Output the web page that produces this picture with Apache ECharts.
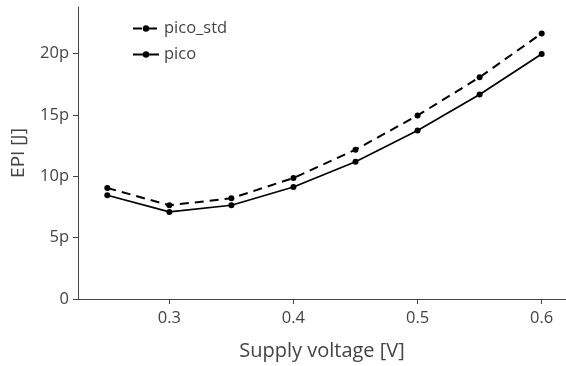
<!DOCTYPE html>
<html lang="en">
  <head>
    <meta charset="UTF-8" />
    <title>EPI vs supply voltage</title>
  </head>
  <body style="margin: 0">
    <div id="main" style="width: 566px; height: 366px"></div>

    <script src="https://cdn.jsdelivr.net/npm/echarts@6/dist/echarts.min.js"></script>
    <script>
      // supply voltage [V]
      const voltages = [0.25, 0.3, 0.35, 0.4, 0.45, 0.5, 0.55, 0.6]
      // energy per instruction, in pJ
      const picoStd = [9.05, 7.64, 8.21, 9.86, 12.17, 14.96, 18.07, 21.65]
      const pico = [8.46, 7.1, 7.64, 9.13, 11.19, 13.74, 16.67, 19.97]
      const xTicks = [0.3, 0.4, 0.5, 0.6]
      const yTicks = [0, 5, 10, 15, 20]

      const myChart = echarts.init(document.getElementById('main'))
      const textColor = '#444'
      const font = '"Open Sans", sans-serif'

      const toPairs = ys => voltages.map((v, i) => [v, ys[i]])

      const option = {
        backgroundColor: '#fff',
        animation: false,
        textStyle: { fontFamily: font },
        grid: { left: 78, right: 0, top: 7, bottom: 66, containLabel: false },
        legend: {
          orient: 'vertical',
          left: 132,
          top: 20,
          padding: 0,
          itemGap: 9,
          itemWidth: 26,
          itemHeight: 8,
          textStyle: { color: textColor, fontSize: 16.5, fontFamily: font },
          data: ['pico_std', 'pico']
        },
        xAxis: {
          type: 'value',
          min: 0.2264,
          max: 0.6196,
          name: 'Supply voltage [V]',
          nameLocation: 'middle',
          nameGap: 42,
          nameTextStyle: { color: textColor, fontSize: 20, fontFamily: font },
          axisLine: { lineStyle: { color: textColor, width: 1 } },
          axisTick: { show: true, length: 5, customValues: xTicks, lineStyle: { color: textColor } },
          axisLabel: {
            customValues: xTicks,
            color: textColor,
            fontSize: 16.5,
            margin: 11,
            formatter: v => v.toFixed(1)
          },
          splitLine: { show: false }
        },
        yAxis: {
          type: 'value',
          min: 0,
          max: 23.8,
          name: 'EPI [J]',
          nameLocation: 'middle',
          nameGap: 50,
          nameTextStyle: { color: textColor, fontSize: 19, fontFamily: font },
          axisLine: { show: true, lineStyle: { color: textColor, width: 1 } },
          axisTick: { show: true, length: 5, customValues: yTicks, lineStyle: { color: textColor } },
          axisLabel: {
            customValues: yTicks,
            color: textColor,
            fontSize: 16.5,
            margin: 9,
            formatter: v => (v === 0 ? '0' : v + 'p')
          },
          splitLine: { show: false }
        },
        series: [
          {
            name: 'pico_std',
            type: 'line',
            data: toPairs(picoStd),
            symbol: 'circle',
            symbolSize: 6,
            itemStyle: { color: '#000' },
            lineStyle: { color: '#000', width: 2, type: [9, 6] }
          },
          {
            name: 'pico',
            type: 'line',
            data: toPairs(pico),
            symbol: 'circle',
            symbolSize: 6,
            itemStyle: { color: '#000' },
            lineStyle: { color: '#000', width: 1.7 }
          }
        ]
      }

      myChart.setOption(option)
    </script>
  </body>
</html>
